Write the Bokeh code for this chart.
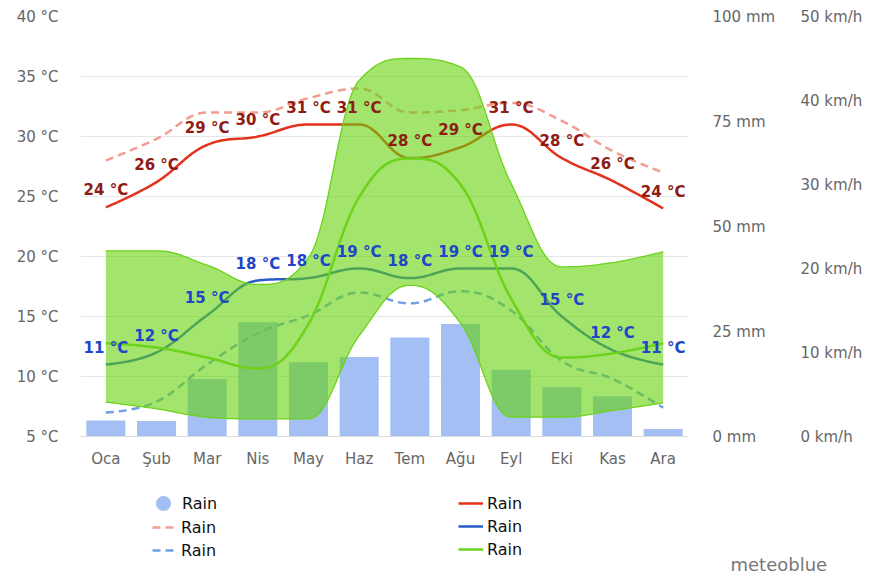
import numpy as np
from bokeh.plotting import figure
from bokeh.layouts import column
from bokeh.models import (Range1d, LinearAxis, FixedTicker, PrintfTickFormatter,
                          Legend, LegendItem, ColumnDataSource)
from bokeh.core.properties import value
from bokeh.embed import file_html
from bokeh.resources import INLINE

# ---------------- data ----------------
months = ["Oca", "Şub", "Mar", "Nis", "May", "Haz", "Tem", "Ağu", "Eyl", "Eki", "Kas", "Ara"]
precip_mm = [3.8, 3.7, 13.7, 27.2, 17.7, 18.9, 23.6, 26.8, 15.9, 11.7, 9.6, 1.8]
temp_max = [24.1, 26.2, 29.3, 30.0, 31.0, 31.0, 28.2, 29.1, 31.0, 28.2, 26.3, 24.0]
hot_days = [28.0, 29.8, 32.0, 32.0, 33.2, 34.0, 32.0, 32.2, 32.8, 31.3, 28.8, 27.0]
temp_min = [11.0, 12.0, 15.1, 18.0, 18.2, 19.0, 18.2, 19.0, 19.0, 15.0, 12.2, 11.0]
cold_nights = [7.0, 7.9, 11.0, 13.6, 15.1, 17.0, 16.1, 17.1, 15.5, 11.3, 9.8, 7.4]
wind_kmh = [11.1, 10.6, 9.4, 8.1, 13.4, 28.5, 33.1, 30.0, 16.4, 9.4, 9.9, 11.1]
wind_low = [4.1, 3.3, 2.3, 2.1, 2.1, 12.0, 18.0, 13.5, 2.3, 2.3, 3.1, 4.0]
wind_high = [22.1, 22.1, 20.4, 18.1, 21.3, 42.4, 45.0, 44.0, 30.1, 20.2, 20.7, 22.0]
temp_ticks = [5, 10, 15, 20, 25, 30, 35, 40]
mm_ticks = [0, 25, 50, 75, 100]
kmh_ticks = [0, 10, 20, 30, 40, 50]
legend_labels = ["Rain", "Rain", "Rain", "Rain", "Rain", "Rain"]
credit = "meteoblue"

# ---------------- helpers ----------------
def hc_spline(ys, n=30):
    """Highcharts-style spline through the points (drawing only)."""
    ys = np.asarray(ys, float)
    xs = np.arange(len(ys), dtype=float)
    N = len(ys)
    lx, ly, rx, ry = xs.copy(), ys.copy(), xs.copy(), ys.copy()
    s, d = 1.5, 2.5
    for i in range(1, N - 1):
        lX, lY, nX, nY, pX, pY = xs[i-1], ys[i-1], xs[i+1], ys[i+1], xs[i], ys[i]
        lcx = (s * pX + lX) / d; lcy = (s * pY + lY) / d
        rcx = (s * pX + nX) / d; rcy = (s * pY + nY) / d
        corr = (rcy - lcy) * (rcx - pX) / (rcx - lcx) + pY - rcy
        lcy += corr; rcy += corr
        if lcy > lY and lcy > pY:
            lcy = max(lY, pY); rcy = 2 * pY - lcy
        elif lcy < lY and lcy < pY:
            lcy = min(lY, pY); rcy = 2 * pY - lcy
        if rcy > nY and rcy > pY:
            rcy = max(nY, pY); lcy = 2 * pY - rcy
        elif rcy < nY and rcy < pY:
            rcy = min(nY, pY); lcy = 2 * pY - rcy
        lx[i], ly[i], rx[i], ry[i] = lcx, lcy, rcx, rcy
    outx, outy = [], []
    t = np.linspace(0, 1, n, endpoint=False)
    for i in range(N - 1):
        P0 = (xs[i], ys[i]); P1 = (rx[i], ry[i]); P2 = (lx[i+1], ly[i+1]); P3 = (xs[i+1], ys[i+1])
        for k in range(2):
            c = ((1-t)**3)*P0[k] + 3*((1-t)**2)*t*P1[k] + 3*(1-t)*t**2*P2[k] + t**3*P3[k]
            (outx if k == 0 else outy).extend(c.tolist())
    outx.append(xs[-1]); outy.append(ys[-1])
    return np.array(outx), np.array(outy)

FONT = "DejaVu Sans"
RED = "#E4311B"
RED_D = "#F39C92"
BLUE = "#2B5CC7"
BLUE_D = "#6FA0E4"
GREEN = "#6CD21A"
AREA = "#64D20A"
BAR = "#A3BFF4"

W = 874
p = figure(width=W, height=472, x_range=Range1d(-0.5, 11.5), y_range=Range1d(5, 40),
           output_backend="svg", toolbar_location=None,
           min_border_left=80, min_border_right=186, min_border_top=16, min_border_bottom=36)
p.extra_y_ranges = {"mm": Range1d(0, 100), "kmh": Range1d(0, 50)}
p.outline_line_color = None
p.background_fill_color = "white"
p.border_fill_color = "white"

# grid
p.xgrid.grid_line_color = None
p.ygrid.ticker = FixedTicker(ticks=temp_ticks)
p.ygrid.grid_line_color = "#e6e6e6"
p.ygrid.grid_line_width = 1

# axes
def style_axis(ax, standoff, size="15px", color="#666666"):
    ax.major_tick_line_color = None
    ax.minor_tick_line_color = None
    ax.major_tick_out = 0
    ax.major_tick_in = 0
    ax.axis_line_color = None
    ax.major_label_text_font = FONT
    ax.major_label_text_font_size = size
    ax.major_label_text_color = color
    ax.major_label_standoff = standoff

p.yaxis.ticker = FixedTicker(ticks=temp_ticks)
p.yaxis.formatter = PrintfTickFormatter(format="%d °C")
style_axis(p.yaxis[0], 22)

p.xaxis.ticker = FixedTicker(ticks=list(range(len(months))))
p.xaxis.major_label_overrides = {i: m for i, m in enumerate(months)}
style_axis(p.xaxis[0], 13)
p.xaxis.axis_line_color = "#dcdcdc"

ax_mm = LinearAxis(y_range_name="mm", ticker=FixedTicker(ticks=mm_ticks),
                   formatter=PrintfTickFormatter(format="%d mm"))
style_axis(ax_mm, 24)
p.add_layout(ax_mm, "right")
ax_kmh = LinearAxis(y_range_name="kmh", ticker=FixedTicker(ticks=kmh_ticks),
                    formatter=PrintfTickFormatter(format="%d km/h"))
style_axis(ax_kmh, 22)
p.add_layout(ax_kmh, "right")

idx = list(range(len(months)))

# bars
p.vbar(x=idx, top=precip_mm, width=0.77, bottom=0, y_range_name="mm",
       fill_color=BAR, line_color=None)

# temperature lines (under the green area)
x, y = hc_spline(hot_days)
p.line(x, y, line_color=RED_D, line_width=2.5, line_dash="8 5")
x, y = hc_spline(cold_nights)
p.line(x, y, line_color=BLUE_D, line_width=2.5, line_dash="8 5")
x, y = hc_spline(temp_max)
p.line(x, y, line_color=RED, line_width=2.5)
x, y = hc_spline(temp_min)
p.line(x, y, line_color=BLUE, line_width=2.5)

# green range area
xl, yl = hc_spline(wind_low)
xh, yh = hc_spline(wind_high)
p.varea(x=xl, y1=yl, y2=yh, y_range_name="kmh", fill_color=AREA, fill_alpha=0.6)
p.line(xh, yh, y_range_name="kmh", line_color=GREEN, line_width=1.3)
p.line(xl, yl, y_range_name="kmh", line_color=GREEN, line_width=1.3)
x, y = hc_spline(wind_kmh)
p.line(x, y, y_range_name="kmh", line_color=GREEN, line_width=2.5)

# data labels
src_max = ColumnDataSource(dict(x=idx, y=temp_max, t=[f"{round(v)} °C" for v in temp_max]))
src_min = ColumnDataSource(dict(x=idx, y=temp_min, t=[f"{round(v)} °C" for v in temp_min]))
for src, col in ((src_max, "#8E1B14"), (src_min, "#1F45C8")):
    p.text(x="x", y="y", text="t", source=src, text_align="center", text_baseline="bottom",
           y_offset=-8, text_font=value(FONT), text_font_size="15px", text_font_style="bold",
           text_color=col)

# ---------------- legend strip ----------------
QH = 104
q = figure(width=W, height=QH, x_range=Range1d(-0.5, 11.5), y_range=Range1d(0, QH),
           output_backend="svg", toolbar_location=None,
           min_border_left=80, min_border_right=186, min_border_top=0, min_border_bottom=0,
           x_axis_type=None, y_axis_type=None)
q.grid.visible = False
q.outline_line_color = None
q.background_fill_color = "white"
q.border_fill_color = "white"

# legend symbols (hidden renderers carrying the series styles)
g_dot = q.scatter(x=idx, y=precip_mm, marker="circle", size=18, fill_color=BAR,
                  line_color=None, visible=False)
g_hot = q.line(x=idx, y=hot_days, line_color=RED_D, line_width=2.5, line_dash="8 5", visible=False)
g_cold = q.line(x=idx, y=cold_nights, line_color=BLUE_D, line_width=2.5, line_dash="8 5", visible=False)
g_max = q.line(x=idx, y=temp_max, line_color=RED, line_width=2.5, visible=False)
g_min = q.line(x=idx, y=temp_min, line_color=BLUE, line_width=2.5, visible=False)
g_wind = q.line(x=idx, y=wind_kmh, line_color=GREEN, line_width=2.5, visible=False)

def make_legend(items, loc, gw=25, gh=20, standoff=4):
    lg = Legend(items=items, location=loc, orientation="vertical")
    lg.background_fill_alpha = 0
    lg.border_line_color = None
    lg.inactive_fill_alpha = 0
    lg.padding = 0
    lg.margin = 0
    lg.spacing = 3
    lg.glyph_width = gw
    lg.glyph_height = gh
    lg.label_height = gh
    lg.label_standoff = standoff
    lg.label_text_font = FONT
    lg.label_text_font_size = "16px"
    lg.label_text_color = "#111111"
    q.add_layout(lg, "center")
    return lg

make_legend([LegendItem(label=legend_labels[0], renderers=[g_dot])], (64, 54),
            gw=38, gh=38, standoff=0)
make_legend([LegendItem(label=legend_labels[1], renderers=[g_hot]),
             LegendItem(label=legend_labels[2], renderers=[g_cold])], (72, 16))
make_legend([LegendItem(label=legend_labels[3], renderers=[g_max]),
             LegendItem(label=legend_labels[4], renderers=[g_min]),
             LegendItem(label=legend_labels[5], renderers=[g_wind])], (378, 17))

# credit text carried by a bare right-hand axis of the strip
credit_axis = LinearAxis(ticker=FixedTicker(ticks=[12]), major_label_overrides={12: credit})
style_axis(credit_axis, 42, size="18px", color="#777777")
q.add_layout(credit_axis, "right")

page = column(p, q, spacing=0)
open("out.html", "w").write(file_html(page, INLINE))
